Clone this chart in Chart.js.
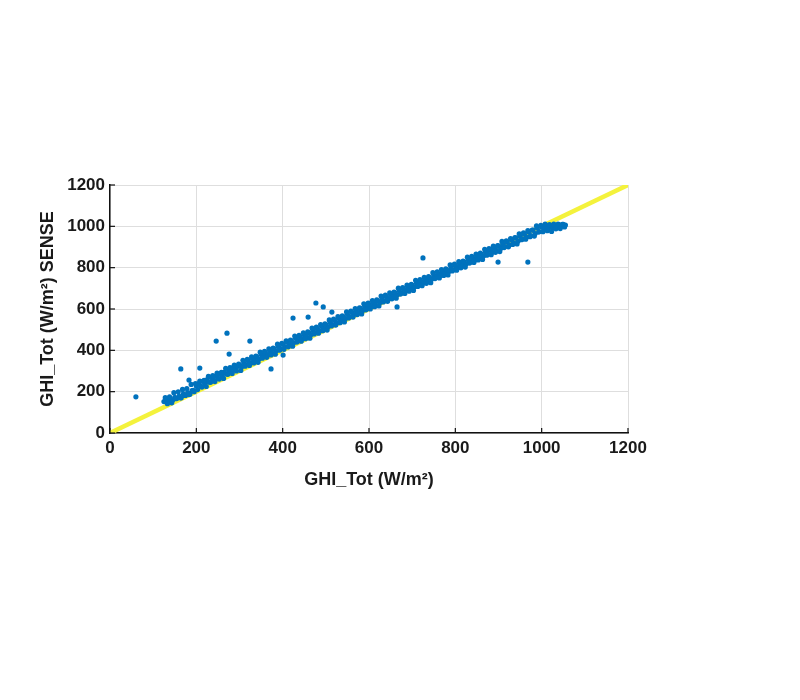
<!DOCTYPE html>
<html>
<head>
<meta charset="utf-8">
<title>GHI_Tot vs SENSE</title>
<script src="https://cdn.jsdelivr.net/npm/chart.js@4.4.1/dist/chart.umd.min.js"></script>
<style>
  body { margin: 0; background: #fff; }
  canvas { display: block; }
</style>
</head>
<body>
<canvas id="scatterChart" width="800" height="700"></canvas>
<script>
// reference GHI_Tot (x) vs SENSE reading (y), W/m2 - central row of the band
const clusterX = [
  125, 130, 135, 140, 145, 150, 155, 160, 165, 170, 175, 180, 185, 190, 195, 200,
  205, 210, 215, 220, 225, 230, 235, 240, 245, 250, 255, 260, 265, 270, 275, 280,
  285, 290, 295, 300, 305, 310, 315, 320, 325, 330, 335, 340, 345, 350, 355, 360,
  365, 370, 375, 380, 385, 390, 395, 400, 405, 410, 415, 420, 425, 430, 435, 440,
  445, 450, 455, 460, 465, 470, 475, 480, 485, 490, 495, 500, 505, 510, 515, 520,
  525, 530, 535, 540, 545, 550, 555, 560, 565, 570, 575, 580, 585, 590, 595, 600,
  605, 610, 615, 620, 625, 630, 635, 640, 645, 650, 655, 660, 665, 670, 675, 680,
  685, 690, 695, 700, 705, 710, 715, 720, 725, 730, 735, 740, 745, 750, 755, 760,
  765, 770, 775, 780, 785, 790, 795, 800, 805, 810, 815, 820, 825, 830, 835, 840,
  845, 850, 855, 860, 865, 870, 875, 880, 885, 890, 895, 900, 905, 910, 915, 920,
  925, 930, 935, 940, 945, 950, 955, 960, 965, 970, 975, 980, 985, 990, 995, 1000,
  1005, 1010, 1015, 1020, 1025, 1030, 1035, 1040, 1045, 1050, 1055
];
const clusterY = [
  152, 160, 150, 165, 158, 172, 168, 178, 170, 190, 182, 195, 188, 205, 200, 228,
  238, 228, 250, 240, 258, 246, 268, 256, 275, 266, 286, 278, 295, 285, 305, 296,
  316, 305, 322, 330, 320, 340, 330, 350, 340, 360, 350, 368, 358, 380, 370, 388,
  378, 398, 388, 408, 398, 418, 408, 430, 418, 440, 428, 447, 436, 458, 446, 466,
  456, 476, 466, 486, 476, 496, 485, 505, 495, 516, 505, 525, 514, 535, 524, 545,
  534, 555, 544, 563, 553, 574, 563, 584, 573, 592, 582, 603, 592, 612, 603, 622,
  612, 632, 620, 640, 630, 650, 640, 660, 650, 670, 660, 678, 668, 688, 678, 698,
  688, 706, 697, 716, 706, 726, 716, 734, 725, 744, 735, 752, 744, 762, 754, 772,
  762, 780, 772, 790, 782, 800, 790, 810, 800, 818, 810, 828, 818, 838, 828, 848,
  836, 856, 846, 866, 856, 876, 866, 886, 874, 894, 884, 906, 893, 914, 902, 924,
  910, 934, 920, 944, 928, 952, 938, 962, 948, 972, 955, 982, 965, 992, 975, 998,
  985, 1002, 988, 1005, 992, 1006, 996, 1008, 1000, 1010, 1006
];
// outer row of the band (wider scatter)
const spreadX = [
  128, 133, 138, 143, 148, 153, 158, 163, 168, 173, 178, 183, 188, 193, 198, 203,
  208, 213, 218, 223, 228, 233, 238, 243, 248, 253, 258, 263, 268, 273, 278, 283,
  288, 293, 298, 303, 308, 313, 318, 323, 328, 333, 338, 343, 348, 353, 358, 363,
  368, 373, 378, 383, 388, 393, 398, 403, 408, 413, 418, 423, 428, 433, 438, 443,
  448, 453, 458, 463, 468, 473, 478, 483, 488, 493, 498, 503, 508, 513, 518, 523,
  528, 533, 538, 543, 548, 553, 558, 563, 568, 573, 578, 583, 588, 593, 598, 603,
  608, 613, 618, 623, 628, 633, 638, 643, 648, 653, 658, 663, 668, 673, 678, 683,
  688, 693, 698, 703, 708, 713, 718, 723, 728, 733, 738, 743, 748, 753, 758, 763,
  768, 773, 778, 783, 788, 793, 798, 803, 808, 813, 818, 823, 828, 833, 838, 843,
  848, 853, 858, 863, 868, 873, 878, 883, 888, 893, 898, 903, 908, 913, 918, 923,
  928, 933, 938, 943, 948, 953, 958, 963, 968, 973, 978, 983, 988, 993, 998, 1003,
  1008, 1013, 1018, 1023, 1028, 1033, 1038, 1043, 1048, 1053
];
const spreadY = [
  171, 142, 175, 146, 195, 166, 199, 170, 211, 182, 215, 186, 235, 206, 239, 210,
  251, 222, 255, 225, 274, 245, 278, 249, 290, 261, 294, 264, 313, 284, 317, 288,
  329, 300, 333, 303, 352, 323, 356, 327, 368, 339, 372, 342, 391, 362, 395, 366,
  407, 378, 411, 381, 430, 401, 434, 405, 446, 417, 450, 420, 469, 440, 473, 444,
  485, 456, 489, 459, 508, 479, 512, 483, 524, 495, 528, 498, 547, 518, 551, 522,
  563, 534, 567, 537, 586, 557, 590, 561, 602, 573, 606, 576, 625, 596, 629, 600,
  641, 611, 644, 615, 663, 634, 667, 637, 678, 649, 682, 652, 701, 672, 704, 675,
  716, 686, 719, 690, 739, 709, 742, 713, 753, 724, 757, 727, 776, 747, 780, 750,
  791, 762, 794, 765, 814, 784, 817, 788, 829, 799, 832, 803, 851, 822, 855, 825,
  866, 837, 870, 840, 889, 860, 892, 863, 904, 874, 907, 878, 927, 897, 930, 901,
  941, 912, 945, 915, 964, 935, 968, 938, 979, 950, 982, 953, 1002, 972, 1005, 974,
  1011, 979, 1008, 975, 1011, 988, 1011, 989, 1010, 997
];
const outlierX = [60, 164, 183, 208, 246, 271, 276, 324, 373, 401, 424, 459, 477, 494, 514, 665, 725, 899, 968];
const outlierY = [175, 310, 256, 314, 445, 483, 382, 445, 310, 377, 556, 561, 629, 610, 585, 610, 847, 827, 827];
const refLineX = [0, 1200];
const refLineY = [0, 1200];
const tickValues = [0, 200, 400, 600, 800, 1000, 1200];

const blue = "#0072bd";
const yellow = "#f4f23c";
const fontFamily = "'Liberation Sans', Arial, sans-serif";

const toPoints = (xs, ys) => xs.map((x, i) => ({ x: x, y: ys[i] }));

// small inward tick marks like the original plot
const innerTicks = {
  id: "innerTicks",
  afterDraw(chart) {
    const { ctx, chartArea, scales } = chart;
    ctx.save();
    ctx.strokeStyle = "#111";
    ctx.lineWidth = 1.2;
    tickValues.forEach((v) => {
      const px = scales.x.getPixelForValue(v);
      ctx.beginPath();
      ctx.moveTo(px, chartArea.bottom);
      ctx.lineTo(px, chartArea.bottom - 5);
      ctx.stroke();
      const py = scales.y.getPixelForValue(v);
      ctx.beginPath();
      ctx.moveTo(chartArea.left, py);
      ctx.lineTo(chartArea.left + 5, py);
      ctx.stroke();
    });
    ctx.restore();
  },
};

const ctx = document.getElementById("scatterChart").getContext("2d");
new Chart(ctx, {
  type: "scatter",
  data: {
    datasets: [
      {
        label: "SENSE",
        data: toPoints(clusterX, clusterY)
          .concat(toPoints(spreadX, spreadY))
          .concat(toPoints(outlierX, outlierY)),
        backgroundColor: blue,
        borderWidth: 0,
        pointRadius: 2.6,
        order: 1,
      },
      {
        type: "line",
        label: "1:1",
        data: toPoints(refLineX, refLineY),
        borderColor: yellow,
        borderWidth: 4.5,
        pointRadius: 0,
        order: 2,
      },
    ],
  },
  options: {
    responsive: false,
    animation: false,
    devicePixelRatio: 1,
    layout: {
      padding: { left: 30, top: 185, right: 172, bottom: 200 },
    },
    plugins: {
      legend: { display: false },
      tooltip: { enabled: false },
    },
    scales: {
      x: {
        type: "linear",
        min: 0,
        max: 1200,
        afterFit: (s) => { s.height = 67; },
        afterBuildTicks: (s) => { s.ticks = tickValues.map((v) => ({ value: v })); },
        grid: { color: "#dedede", drawTicks: false },
        border: { color: "#111", width: 1.5 },
        ticks: {
          color: "#1a1a1a",
          padding: 5,
          maxRotation: 0,
          callback: (v) => String(v),
          font: { family: fontFamily, size: 17, weight: "bold" },
        },
        title: {
          display: true,
          text: "GHI_Tot (W/m²)",
          color: "#1a1a1a",
          padding: { top: 0, bottom: 9 },
          font: { family: fontFamily, size: 18, weight: "bold" },
        },
      },
      y: {
        type: "linear",
        min: 0,
        max: 1200,
        afterFit: (s) => { s.width = 80; },
        afterBuildTicks: (s) => { s.ticks = tickValues.map((v) => ({ value: v })); },
        grid: { color: "#dedede", drawTicks: false },
        border: { color: "#111", width: 1.5 },
        ticks: {
          color: "#1a1a1a",
          padding: 5,
          callback: (v) => String(v),
          font: { family: fontFamily, size: 17, weight: "bold" },
        },
        title: {
          display: true,
          text: "GHI_Tot (W/m²) SENSE",
          color: "#1a1a1a",
          padding: { top: 7, bottom: 0 },
          font: { family: fontFamily, size: 18, weight: "bold" },
        },
      },
    },
  },
  plugins: [innerTicks],
});
</script>
</body>
</html>
